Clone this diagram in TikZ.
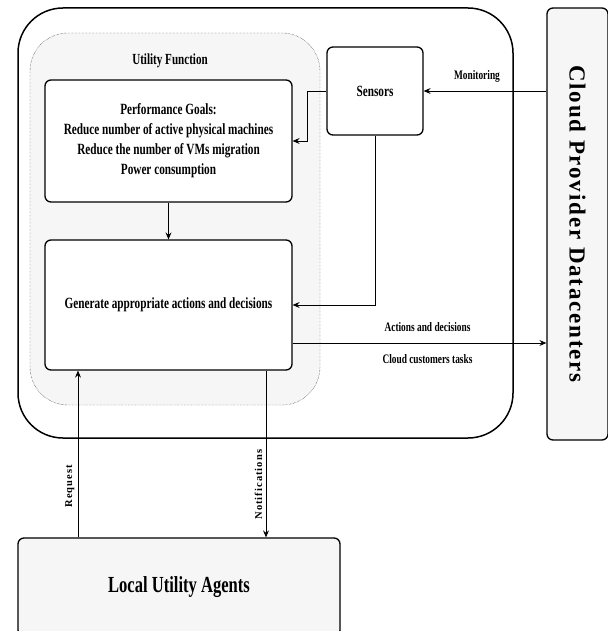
\documentclass[tikz,border=0pt]{standalone}
\usepackage{fontspec}
\setmainfont{Liberation Serif}[FakeStretch=0.72]
\newfontfamily\spacedfont{Liberation Serif}[LetterSpace=10]
\newfontfamily\widefont{Liberation Serif}[LetterSpace=8]
\usepackage{tikz}
\usetikzlibrary{
  arrows.meta,
  calc,
  positioning,
}
\tikzstyle{arrow} = [
  -{Stealth[length=7pt,width=6pt,inset=2.5pt]},
  line width=0.8pt,
  font=\bfseries\fontsize{13}{15}\selectfont,
  text=black,
]
\definecolor{panelgray}{RGB}{246, 246, 246}

\begin{document}
\begin{tikzpicture}[x=1pt, y=-1pt,
    box/.style={draw, line width=1.3pt, rounded corners=6pt, fill=white,
                align=center, font=\bfseries\fontsize{15.6}{20}\selectfont,
                inner sep=0pt},
    panel/.style={box, fill=panelgray},
    sidelabel/.style={rotate=90, above=1pt,
                      font=\spacedfont\bfseries\fontsize{10.5}{12}\selectfont}]
    \useasboundingbox (0,0) rectangle (607,631);
    \draw [line width=1.5pt, rounded corners=45pt] (18,8) rectangle (513,438);
    \draw [densely dotted, fill=panelgray, rounded corners=38pt]
          (30,33) rectangle (320,405);
    \node [font=\bfseries\fontsize{15.4}{17}\selectfont] (uf) at (170,61)
          {Utility Function};
    \node [box, minimum width=247pt, minimum height=122pt] (goals)
          at (168.5,141)
          {Performance Goals:\\Reduce number of active physical machines\\
           Reduce the number of VMs migration\\Power consumption};
    \node [box, minimum width=247pt, minimum height=130pt] (gen)
          at (168.5,305) {Generate appropriate actions and decisions};
    \node [box, minimum width=96pt, minimum height=88pt] (sens)
          at (375,91) {Sensors};
    \node [panel, minimum width=61pt, minimum height=432pt] (cloud)
          at (577.5,224) {};
    \node [rotate=-90, font=\widefont\bfseries\fontsize{23}{25}\selectfont]
          (cloudtext) at (cloud.center) {Cloud Provider Datacenters};
    \node [panel, minimum width=322pt, minimum height=98pt,
           font=\bfseries\fontsize{23}{25}\selectfont] (lua)
          at (179,587) {Local Utility Agents};
    \draw [arrow] (cloud.west |- sens.east) -- node [above=5pt, xshift=-8pt]
          {Monitoring} (sens.east);
    \draw [arrow] (sens.west) -- ++(-19,0) |- (goals.east);
    \draw [arrow] (goals.south) -- (gen.north);
    \draw [arrow] (sens.south) |- (gen.east);
    \coordinate (act) at (0,343);
    \draw [arrow] (gen.east |- act) -- node [above=8pt, xshift=8pt]
          {Actions and decisions}
          node [below=8pt, xshift=8pt] {Cloud customers tasks} (cloud.west |- act);
    \coordinate (req) at (78,0);
    \coordinate (notif) at (266,0);
    \draw [arrow] (lua.north -| req) -- node [sidelabel, pos=0.3]
          {Request} (gen.south -| req);
    \draw [arrow] (gen.south -| notif) -- node [sidelabel, pos=0.69]
          {Notifications} (lua.north -| notif);
  \end{tikzpicture}
\end{document}
